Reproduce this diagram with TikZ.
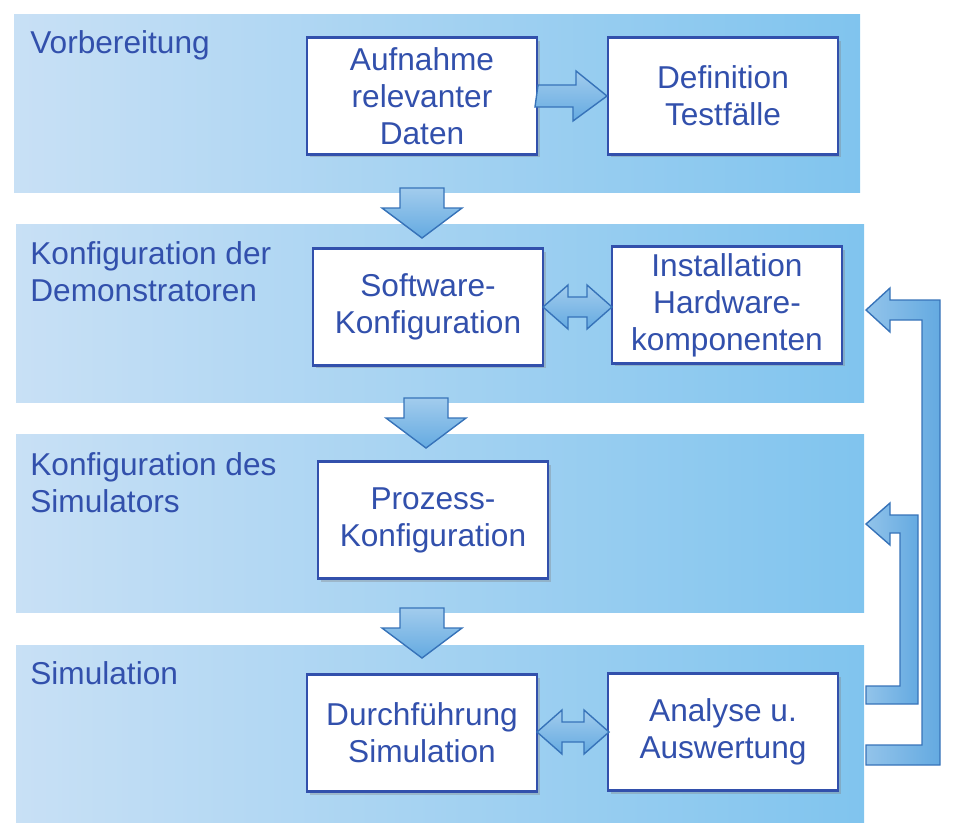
\documentclass[tikz,border=0pt]{standalone}
\usepackage{fontspec}
\setmainfont{Liberation Sans}
\usetikzlibrary{positioning,calc,shadows}
\definecolor{txtblue}{RGB}{50,80,172}
\definecolor{bandl}{RGB}{200,224,245}
\definecolor{bandr}{RGB}{128,196,238}
\definecolor{arrfill}{RGB}{100,170,225}
\definecolor{arrline}{RGB}{55,115,185}

\newcommand{\dnarrow}[3]{% cx, ytop, ytip
  \shade[arr, top color=arrfill!60, bottom color=arrfill]
    (#1-22,#2) -- (#1+22,#2) -- (#1+22,#3-30) -- (#1+40,#3-30) -- (#1,#3)
    -- (#1-40,#3-30) -- (#1-22,#3-30) -- cycle;}
\newcommand{\dblarrow}[3]{% xleft, xright, cy
  \shade[arr, top color=arrfill!60, bottom color=arrfill]
    (#1,#3) -- (#1+25,#3-22) -- (#1+25,#3-10) -- (#2-25,#3-10) -- (#2-25,#3-22)
    -- (#2,#3) -- (#2-25,#3+22) -- (#2-25,#3+10) -- (#1+25,#3+10) -- (#1+25,#3+22) -- cycle;}

\begin{document}
\begin{tikzpicture}[x=0.02cm, y=-0.02cm,
    band/.style={left color=bandl, right color=bandr},
    box/.style={rectangle, draw=txtblue, line width=1.2pt, fill=white,
                minimum width=4.6cm, minimum height=2.34cm, align=center,
                text=txtblue, font=\fontsize{18}{21}\selectfont, inner sep=1pt,
                drop shadow={opacity=0.35, shadow xshift=0.06cm, shadow yshift=-0.06cm}},
    lbl/.style={anchor=north west, align=left, text=txtblue, inner sep=0pt,
                font=\fontsize{18}{21}\selectfont},
    arr/.style={draw=arrline, line width=0.8pt, line join=miter}
]
    \useasboundingbox (0,0) rectangle (956,839);

    % Bands
    \shade[band] (14,14) rectangle (860,192);
    \shade[band] (16,224) rectangle (864,402);
    \shade[band] (16,434) rectangle (864,612);
    \shade[band] (16,645) rectangle (864,822);

    % Phase labels
    \node[lbl] (vorb) at (30,30) {Vorbereitung};
    \node[lbl] (kdem) at (30,241) {Konfiguration der\\Demonstratoren};
    \node[lbl] (ksim) at (30,452) {Konfiguration des\\Simulators};
    \node[lbl] (simu) at (30,661) {Simulation};

    % Steps
    \node[box] (aufn) at (422,96) {Aufnahme\\relevanter\\Daten};
    \node[box] (defi) at (723,96) {Definition\\Testfälle};
    \node[box] (soft) at (428,307) {Software-\\Konfiguration};
    \node[box] (inst) at (727,305) {Installation\\Hardware-\\komponenten};
    \node[box] (proz) at (433,520) {Prozess-\\Konfiguration};
    \node[box] (durc) at (422,733) {Durchführung\\Simulation};
    \node[box] (anal) at (723,732) {Analyse u.\\Auswertung};

    % Arrows between phases
    \dnarrow{422}{188}{238}
    \dnarrow{426}{398}{448}
    \dnarrow{422}{608}{658}

    % Arrows between steps
    \shade[arr, top color=arrfill!60, bottom color=arrfill]
      (aufn.east) ++(0,-11) -- ++(38,0) -- ++(0,-14) -- (defi.west) -- ++(-34,25)
      -- ++(0,-14) -- ++(-38,0) -- cycle;
    \dblarrow{543}{612}{307}
    \dblarrow{537}{609}{732}

    % Feedback arrows
    \shade[arr, left color=arrfill!70, right color=arrfill]
      (866,686) -- (900,686) -- (900,533) -- (890,533) -- (890,545) -- (866,524)
      -- (890,503) -- (890,515) -- (918,515) -- (918,704) -- (866,704) -- cycle;
    \shade[arr, left color=arrfill!70, right color=arrfill]
      (866,745) -- (922,745) -- (922,320) -- (890,320) -- (890,332) -- (866,310)
      -- (890,288) -- (890,300) -- (940,300) -- (940,765) -- (866,765) -- cycle;
\end{tikzpicture}
\end{document}
